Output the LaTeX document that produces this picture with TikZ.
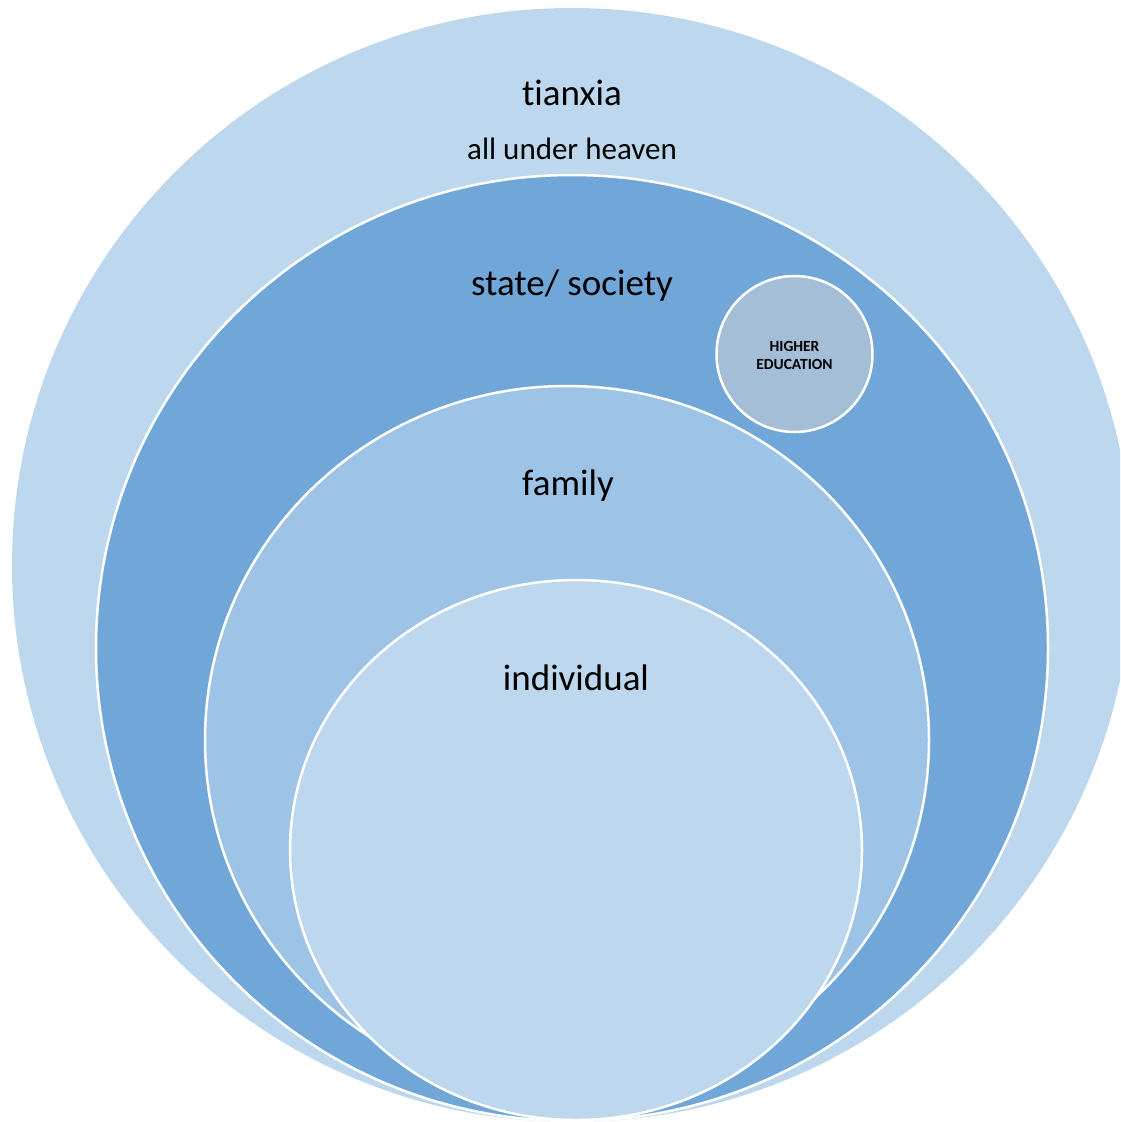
\documentclass[tikz,border=0pt]{standalone}
\usepackage{fontspec}
\setmainfont{Carlito}[Ligatures=NoCommon]
\usetikzlibrary{shapes.geometric}
\definecolor{outerc}{HTML}{BDD7EE}
\definecolor{statec}{HTML}{71A7D8}
\definecolor{familyc}{HTML}{9DC3E6}
\definecolor{indivc}{HTML}{BDD7EE}
\definecolor{hec}{HTML}{A3BED6}
\begin{document}
\begin{tikzpicture}[x=1pt,y=-1pt,
  ring/.style={ellipse, inner sep=0pt, draw=white, line width=2.5pt},
  bigtext/.style={anchor=base, inner sep=0pt, font=\fontsize{37}{41}\selectfont},
  subtext/.style={anchor=base, inner sep=0pt, font=\fontsize{31}{35}\selectfont},
  hetext/.style={inner sep=0pt, align=center, font=\bfseries\fontsize{15.5}{18}\selectfont}]
\clip (0,0) rectangle (1120,1122);
\node[ellipse, inner sep=0pt, fill=outerc, minimum width=1120pt, minimum height=1114pt] (tianxia) at (572,565) {};
\node[ring, fill=statec, minimum width=952pt, minimum height=946pt] (state) at (572,648) {};
\node[ring, fill=familyc, minimum width=724pt, minimum height=708pt] (family) at (567,740) {};
\node[ring, fill=indivc, minimum width=572pt, minimum height=540pt] (indiv) at (576,850) {};
\node[circle, inner sep=0pt, draw=white, line width=2.5pt, fill=hec, minimum size=156pt] (he) at (794.5,354) {};
\node[bigtext] (t1) at (572,105) {tianxia};
\node[subtext] (t2) at (572,159) {all under heaven};
\node[bigtext] (t3) at (572,295) {state/ society};
\node[bigtext] (t4) at (568,495) {family};
\node[bigtext] (t5) at (576,690) {individual};
\node[hetext] (t6) at (794.5,355) {HIGHER\\EDUCATION};
\end{tikzpicture}
\end{document}
